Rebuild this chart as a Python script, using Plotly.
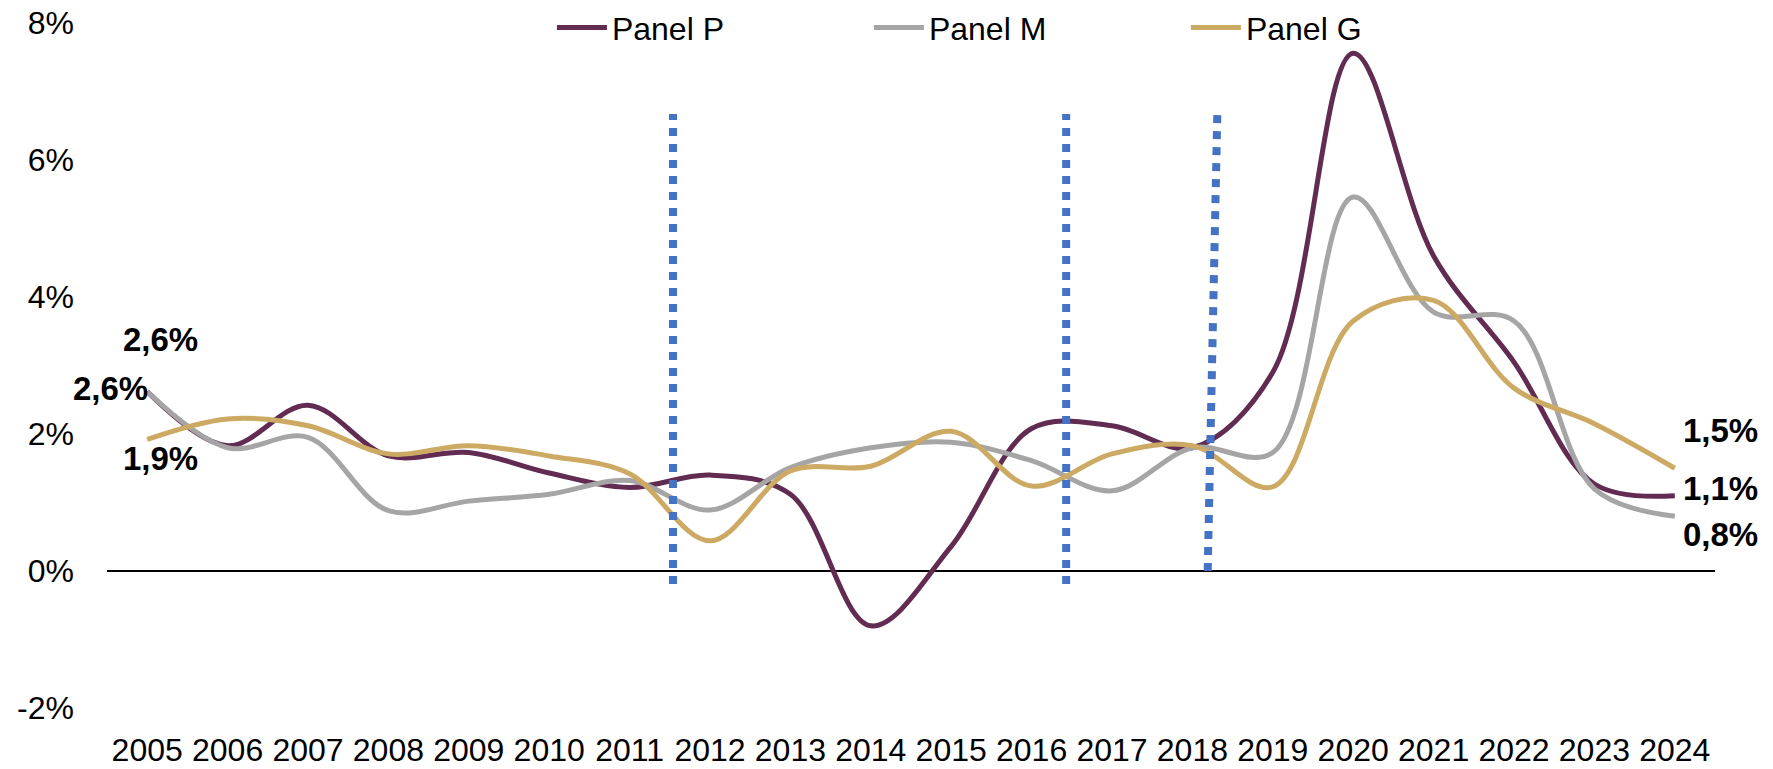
import plotly.graph_objects as go

years = [str(y) for y in range(2005, 2025)]

panel_p = [2.62, 1.83, 2.42, 1.68, 1.73, 1.43, 1.22, 1.40, 1.12, -0.80,
           0.36, 2.08, 2.12, 1.80, 2.90, 7.56, 4.60, 3.05, 1.27, 1.10]
panel_m = [2.62, 1.80, 1.95, 0.88, 1.02, 1.12, 1.32, 0.89, 1.51, 1.80,
           1.88, 1.61, 1.17, 1.80, 1.73, 5.46, 3.78, 3.65, 1.20, 0.80]
panel_g = [1.92, 2.22, 2.12, 1.71, 1.83, 1.68, 1.42, 0.44, 1.46, 1.53,
           2.04, 1.24, 1.71, 1.83, 1.23, 3.65, 3.95, 2.67, 2.15, 1.50]

y_ticks = [-2, 0, 2, 4, 6, 8]
y_ticktext = [f"{v}%" for v in y_ticks]

series = [
    ("Panel P", panel_p, "#612B52"),
    ("Panel M", panel_m, "#A5A5A5"),
    ("Panel G", panel_g, "#CDAA63"),
]

# dotted vertical markers, x in category units
break_x_top = [6.54, 11.43, 13.31]
break_x_bottom = [6.54, 11.43, 13.19]
break_y_bottom = [-0.19, -0.19, 0.0]
break_y_top = 6.67

FONT = "Liberation Sans, Arial, sans-serif"


def pct(v):
    return f"{v:.1f}".replace(".", ",") + "%"


fig = go.Figure()
for name, vals, color in series:
    fig.add_trace(
        go.Scatter(
            x=years,
            y=vals,
            mode="lines",
            name=name,
            line=dict(color=color, width=5, shape="spline", smoothing=1),
            hoverinfo="skip",
        )
    )

for x0, x1, y0 in zip(break_x_bottom, break_x_top, break_y_bottom):
    fig.add_shape(
        type="line",
        xref="x",
        yref="y",
        x0=x0,
        x1=x1,
        y0=y0,
        y1=break_y_top,
        line=dict(color="#4472C4", width=8, dash="8px,8px"),
        layer="above",
    )

# end-point labels: (index, values, anchor, xshift, yshift)
last = len(years) - 1
labels = [
    (0, panel_p, "center", 13, 52),
    (0, panel_m, "right", 3, 3),
    (0, panel_g, "center", 13, -19),
    (last, panel_g, "left", 6, 38),
    (last, panel_p, "left", 6, 7),
    (last, panel_m, "left", 6, -18),
]
for idx, vals, anchor, dx, dy in labels:
    fig.add_annotation(
        x=idx,  # category index on the category axis
        y=vals[idx],
        xref="x",
        yref="y",
        text="<b>" + pct(vals[idx]) + "</b>",
        showarrow=False,
        xanchor=anchor,
        yanchor="middle",
        xshift=dx,
        yshift=dy,
        font=dict(family=FONT, size=33, color="#000000"),
    )

fig.update_layout(
    width=1773,
    height=769,
    margin=dict(l=107, r=58, t=23, b=61, autoexpand=False),
    paper_bgcolor="white",
    plot_bgcolor="white",
    font=dict(family=FONT, size=32, color="#000000"),
    showlegend=True,
    legend=dict(
        orientation="h",
        x=0.2767,
        xanchor="left",
        y=0.993,
        yanchor="middle",
        bgcolor="rgba(0,0,0,0)",
        font=dict(family=FONT, size=32, color="#000000"),
        itemwidth=50,
        entrywidth=252,
        entrywidthmode="pixels",
    ),
    xaxis=dict(
        type="category",
        range=[-0.5, 19.5],
        showgrid=False,
        showline=False,
        zeroline=False,
        ticks="",
        ticklabelstandoff=20,
        ticklabeloverflow="allow",
        tickfont=dict(family=FONT, size=32),
    ),
    yaxis=dict(
        range=[-2, 8],
        tickmode="array",
        tickvals=y_ticks,
        ticktext=y_ticktext,
        showgrid=False,
        showline=False,
        zeroline=True,
        zerolinecolor="#000000",
        zerolinewidth=2,
        ticks="",
        ticklabelstandoff=32,
        ticklabeloverflow="allow",
        tickfont=dict(family=FONT, size=32),
    ),
)

# drop the default 8px page margin so the figure fills the window exactly
fig.write_html(
    "out.html",
    config={"displayModeBar": False},
    post_script="document.body.style.margin = '0';",
)
